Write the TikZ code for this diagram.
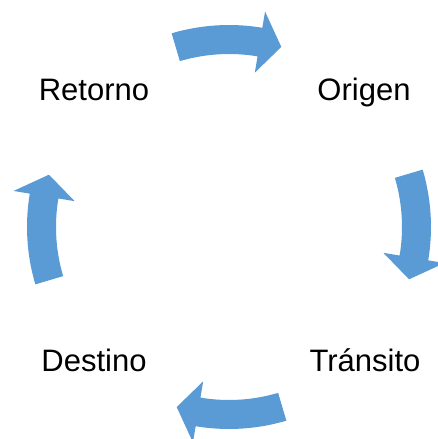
\documentclass[tikz,border=0pt]{standalone}
\usepackage{fontspec}
\setmainfont{Liberation Sans}
\usetikzlibrary{calc}

\definecolor{arrowblue}{HTML}{5B9BD5}

\tikzset{
  stagelabel/.style={anchor=base, inner sep=0pt, font=\fontsize{31}{37}\selectfont},
  cyclearrow/.style={fill=arrowblue, draw=none}
}

% curved block arrow around (c), #1 = middle angle, turning clockwise
\newcommand{\cycleArrow}[1]{%
  \fill[cyclearrow]
    ($(c)+(#1+16.5:202pt)$) arc (#1+16.5:#1-9.5:202pt)
    -- ($(c)+(#1-9.5:218.5pt)$) -- ($(c)+(#1-16.2:187.5pt)$) -- ($(c)+(#1-9.5:156.5pt)$)
    -- ($(c)+(#1-9.5:173pt)$) arc (#1-9.5:#1+16.5:173pt)
    -- cycle;}

\begin{document}
\begin{tikzpicture}
  \useasboundingbox (0,0) rectangle (438pt,439pt);
  \coordinate (c) at (229pt,212pt);

  \node[stagelabel] (retorno) at (94pt,338pt) {Retorno};
  \node[stagelabel] (origen) at (364pt,338pt) {Origen};
  \node[stagelabel] (transito) at (365pt,67pt) {Tránsito};
  \node[stagelabel] (destino) at (94pt,67pt) {Destino};

  \cycleArrow{90}
  \cycleArrow{0}
  \cycleArrow{-90}
  \cycleArrow{180}
\end{tikzpicture}
\end{document}
